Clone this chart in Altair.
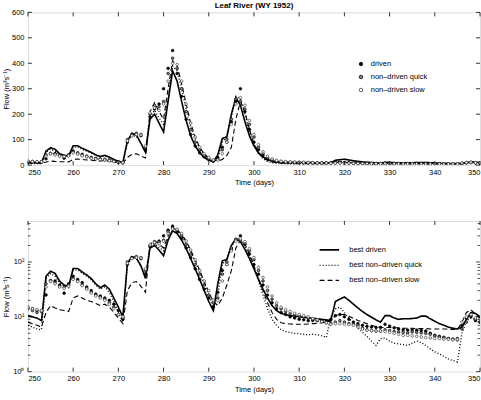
import altair as alt
import pandas as pd

days = list(range(250, 351))

# best-fit simulated lines (m3/s), one value per day 250..350
best_driven = [10.5, 10, 9.5, 8.5, 55, 68, 62, 45, 38, 36,
               76, 76, 66, 58, 50, 40, 34, 38, 32, 22,
               15, 10, 95, 125, 118, 85, 50, 180, 200, 165,
               130, 250, 370, 330, 250, 175, 115, 75, 48, 30,
               19, 13, 40, 105, 110, 200, 265, 235, 170, 115,
               75, 48, 32, 22, 16, 13, 11.5, 11, 10.5, 10.3,
               10, 9.8, 9.6, 9.4, 9.2, 9, 8.8, 8.5, 19, 21,
               23, 20, 17, 14.5, 12.5, 11, 9.8, 8.8, 8, 10.5,
               10.5, 9.5, 9, 9.2, 9.2, 9.3, 9.5, 10.3, 10.3, 9.2,
               8.3, 7.5, 7, 6.5, 6.2, 6, 6.5, 9, 12, 11.5,
               10]
best_quick = [7, 6.5, 6, 5.8, 50, 62, 55, 42, 36, 34,
              70, 72, 62, 55, 47, 38, 32, 35, 28, 19,
              12, 8, 90, 118, 112, 85, 55, 190, 215, 185,
              160, 260, 390, 370, 300, 220, 150, 100, 65, 40,
              25, 16, 25, 90, 115, 190, 270, 260, 200, 130,
              80, 45, 25, 14, 9, 7, 5.8, 5.4, 5.2, 5,
              4.9, 4.8, 4.7, 4.8, 4.7, 4.5, 4.2, 10, 14, 15,
              12, 9.5, 7.7, 6.3, 5.2, 4.4, 3.6, 3.0, 4.0, 4.1,
              3.6, 3.3, 3.2, 3.1, 3.0, 3.3, 3.6, 3.4, 3.0, 2.6,
              2.3, 2.1, 1.9, 1.7, 1.6, 1.5, 5, 8.5, 9.5, 9,
              8.5]
best_slow = [8, 7.5, 7, 6.5, 12, 16, 14.5, 13.5, 13, 12.5,
             22, 24, 22, 20, 19, 17.5, 16, 17, 15, 12,
             9.5, 7.5, 30, 42, 44, 36, 28, 210, 245, 210,
             180, 300, 410, 390, 320, 240, 165, 110, 70, 44,
             28, 19, 16, 22, 38, 70, 180, 250, 210, 140,
             85, 50, 30, 18, 12, 9, 7.8, 7.5, 7.4, 7.3,
             7.3, 7.3, 7.4, 7.5, 7.6, 7.8, 8, 8.4, 10.5, 11,
             11, 10.2, 9.4, 8.6, 8, 7.5, 7, 6.6, 6.4, 6.4,
             6.4, 6.3, 6.3, 6.2, 6.2, 6.2, 6.1, 6.1, 6.1, 6.0,
             6.0, 6.0, 6.0, 6.0, 5.9, 5.9, 8, 12, 13.5, 11,
             9.5]

# point series
pts_driven = [15, 14, 13, 13, 25, 45, 45, 38, 27, 40,
              55, 48, 42, 35, 30, 26, 24, 22, 20, 17,
              13, 9, 90, 120, 122, 115, 60, 190, 220, 240,
              300, 380, 450, 360, 270, 180, 120, 75, 48, 32,
              22, 15, 28, 70, 90, 170, 250, 300, 210, 140,
              90, 60, 38, 25, 18, 14, 12, 11, 10, 9.5,
              9, 8.8, 8.5, 8.6, 8.6, 8.5, 8.4, 9, 10.5, 11,
              10, 9, 8, 7.5, 7, 6.7, 6.5, 6.4, 6.4, 7.3,
              6.8, 6.3, 6, 5.8, 5.7, 5.8, 5.7, 5.6, 5.5, 5,
              4.6, 4.4, 4.2, 4, 3.9, 4, 6.9, 9.4, 10, 8.5,
              8]
pts_quick = [14, 13, 12, 12.5, 40, 46, 42, 36, 34, 38,
             50, 45, 38, 33, 28, 25, 23, 21, 18, 15,
             11, 9.5, 100, 118, 125, 120, 70, 200, 235, 230,
             250, 360, 420, 380, 300, 210, 140, 90, 60, 38,
             25, 18, 22, 60, 100, 180, 260, 250, 220, 160,
             110, 70, 45, 30, 21, 16, 14, 12.5, 11.5, 11,
             10.5, 10, 9.5, 9, 8.6, 8.2, 7.8, 7.5, 8, 8.5,
             8, 7.5, 7.2, 7, 6.2, 5.8, 5.6, 5.5, 5.5, 5.8,
             5.6, 5.4, 5.3, 5.2, 5.1, 5.3, 5.2, 5.1, 5, 4.8,
             4.5, 4.3, 4.2, 4, 3.9, 3.8, 6, 8, 10.5, 9,
             8]
pts_slow = [15, 14, 13.5, 13, 35, 44, 40, 35, 33, 36,
            48, 44, 37, 32, 27, 24, 22, 20, 17, 14,
            11, 10, 95, 115, 120, 118, 75, 205, 225, 215,
            240, 330, 400, 395, 330, 240, 165, 110, 70, 45,
            30, 20, 20, 45, 90, 160, 240, 265, 235, 175,
            120, 80, 52, 35, 24, 18, 15, 13.5, 12.5, 11.6,
            11, 10.5, 10, 9.3, 8.8, 8.2, 7.8, 7.3, 7.5, 7.5,
            7.3, 7.2, 7, 6.5, 6, 5.7, 5.6, 5.5, 5.5, 5.4,
            5.2, 5, 4.8, 4.6, 4.6, 4.5, 4.4, 4.3, 4.2, 4.1,
            4, 4, 3.9, 3.9, 3.8, 3.9, 8, 10, 11, 9.5,
            9]

line_names = ["best driven", "best non\u2013driven quick", "best non\u2013driven slow"]
pt_names = ["driven", "non\u2013driven quick", "non\u2013driven slow"]
x_ticks = [250, 260, 270, 280, 290, 300, 310, 320, 330, 340, 350]
lin_ticks = [0, 100, 200, 300, 400, 500, 600]
log_major = [1, 10, 100]
log_minor = [2, 3, 4, 5, 6, 7, 8, 9, 20, 30, 40, 50, 60, 70, 80, 90, 200, 300, 400, 500]

lines_df = pd.concat([
    pd.DataFrame({"day": days, "flow": vals, "series": name})
    for name, vals in zip(line_names, [best_driven, best_quick, best_slow])
])
pts_df = pd.concat([
    pd.DataFrame({"day": days, "flow": vals, "series": name})
    for name, vals in zip(pt_names, [pts_driven, pts_quick, pts_slow])
])

FONT = "Liberation Sans"
W = 453


def panel(log, H):
    xscale = alt.Scale(domain=[250, 350], nice=False, zero=False)
    xaxis = alt.Axis(values=x_ticks, ticks=False, domain=False, grid=False,
                     labelFontSize=7.5, labelFont=FONT, labelPadding=3,
                     title="Time (days)", titleFontSize=7.5, titleFont=FONT,
                     titleFontWeight="normal", titlePadding=3, labelColor="black",
                     titleColor="black")
    common_y = dict(ticks=False, domain=False, grid=False,
                    labelFontSize=7.5, labelFont=FONT, labelPadding=4,
                    minExtent=16, maxExtent=16,
                    title="Flow (m\u00b3s\u207b\u00b9)", titleFontSize=7.5, titleFont=FONT,
                    titleFontWeight="normal", titlePadding=1, labelColor="black",
                    titleColor="black")
    if log:
        yscale = alt.Scale(type="log", domain=[1, 560], nice=False)
        yaxis = alt.Axis(values=log_major,
                         labelExpr="datum.value == 1 ? '10\u2070' : datum.value == 10 ? '10\u00b9' : '10\u00b2'",
                         **common_y)
    else:
        yscale = alt.Scale(domain=[0, 600], nice=False)
        yaxis = alt.Axis(values=lin_ticks, **common_y)
    X = alt.X("day:Q", scale=xscale, axis=xaxis)
    Y = alt.Y("flow:Q", scale=yscale, axis=yaxis)

    line_legend = None
    pt_legend = None
    if log:
        line_legend = alt.Legend(title=None, orient="none", legendX=291, legendY=18,
                                 symbolType="stroke", symbolSize=380, symbolStrokeWidth=1.6,
                                 symbolStrokeColor="black",
                                 labelFont=FONT, labelFontSize=7.5, labelColor="black",
                                 rowPadding=1, labelOffset=9)
    else:
        pt_legend = alt.Legend(title=None, orient="none", legendX=330, legendY=48,
                               symbolSize=12, symbolStrokeWidth=0.8,
                               labelFont=FONT, labelFontSize=7.5, labelColor="black",
                               rowPadding=4, labelOffset=6)

    lines = alt.Chart(lines_df).mark_line(color="black", clip=True).encode(
        x=X, y=Y,
        strokeDash=alt.StrokeDash("series:N",
                                  scale=alt.Scale(domain=line_names, range=[[1, 0], [1, 2], [5, 3]]),
                                  legend=line_legend),
        strokeWidth=alt.StrokeWidth("series:N",
                                    scale=alt.Scale(domain=line_names, range=[1.6, 1.1, 1.8]),
                                    legend=None),
        detail="series:N",
    )
    pts = alt.Chart(pts_df).mark_point(filled=True, size=7, strokeWidth=0.7, opacity=1, clip=True).encode(
        x=X, y=Y,
        fill=alt.Fill("series:N", scale=alt.Scale(domain=pt_names, range=["black", "#888888", "white"]),
                      legend=pt_legend),
        stroke=alt.Stroke("series:N", scale=alt.Scale(domain=pt_names, range=["black", "black", "#444444"]),
                          legend=pt_legend),
    )

    xt = pd.DataFrame({"day": x_ticks})
    xt_bot = alt.Chart(xt).mark_rule(color="black", strokeWidth=0.8).encode(
        x=X, y=alt.value(H), y2=alt.value(H - 4))
    xt_top = alt.Chart(xt).mark_rule(color="black", strokeWidth=0.8).encode(
        x=X, y=alt.value(0), y2=alt.value(4))
    layers = [lines, pts, xt_bot, xt_top]
    if log:
        ymaj = pd.DataFrame({"flow": log_major})
        ymin = pd.DataFrame({"flow": log_minor})
        for df, L in [(ymaj, 4), (ymin, 2.5)]:
            layers.append(alt.Chart(df).mark_rule(color="black", strokeWidth=0.7).encode(
                y=Y, x=alt.value(0), x2=alt.value(L)))
            layers.append(alt.Chart(df).mark_rule(color="black", strokeWidth=0.7).encode(
                y=Y, x=alt.value(W), x2=alt.value(W - L)))
    else:
        yt = pd.DataFrame({"flow": lin_ticks})
        layers.append(alt.Chart(yt).mark_rule(color="black", strokeWidth=0.8).encode(
            y=Y, x=alt.value(0), x2=alt.value(4)))
        layers.append(alt.Chart(yt).mark_rule(color="black", strokeWidth=0.8).encode(
            y=Y, x=alt.value(W), x2=alt.value(W - 4)))
    return alt.layer(*layers).properties(width=W, height=H)


top = panel(False, 153).properties(
    title=alt.TitleParams("Leaf River (WY 1952)", fontSize=8, fontWeight="bold", font=FONT,
                          offset=-2, anchor="middle", color="black"))
bottom = panel(True, 151)

chart = alt.vconcat(top, bottom, spacing=33).resolve_scale(
    strokeDash="independent", fill="independent", stroke="independent", strokeWidth="independent"
).properties(
    padding={"left": 2, "top": 1, "right": 0, "bottom": 0}
).configure_view(stroke="black", strokeWidth=1).configure_legend(
    labelColor="black"
).configure(background="white")

chart.save("out.html", embed_options={"renderer": "svg", "actions": False})
